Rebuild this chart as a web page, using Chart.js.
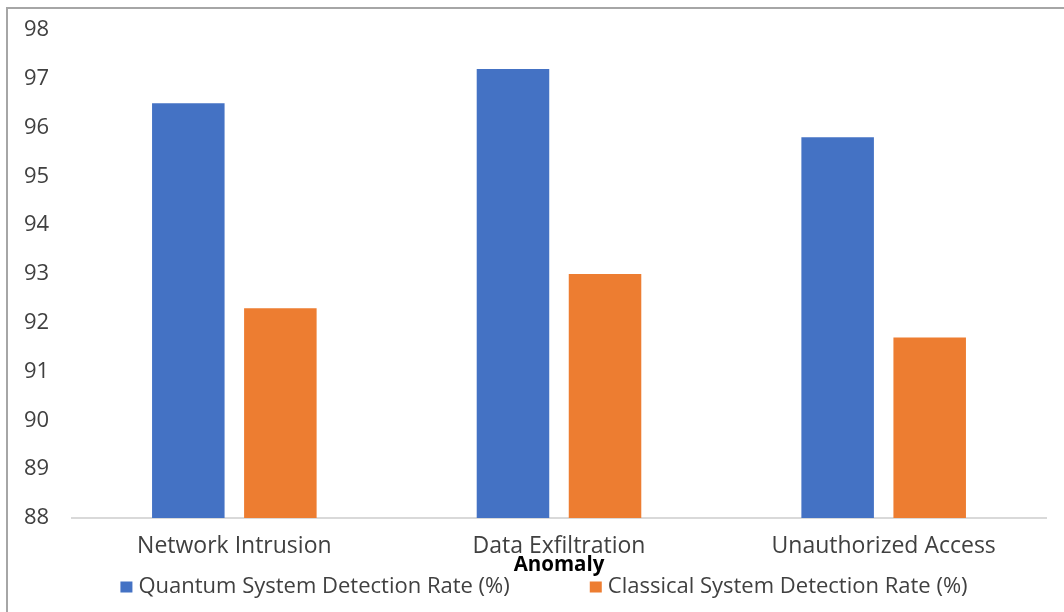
<!DOCTYPE html>
<html lang="en">
<head>
    <meta charset="UTF-8">
    <meta name="viewport" content="width=device-width, initial-scale=1.0">
    <title>Anomaly detection rates</title>
    <script src="https://cdn.jsdelivr.net/npm/chart.js@4.4.0/dist/chart.umd.min.js"></script>
    <style>
        html, body {margin: 0; padding: 0; background: #fff; overflow: hidden;}
        #wrap {position: relative; width: 1064px; height: 612px;}
        #frame {position: absolute; left: 6px; top: 7px; width: 1100px; height: 700px;
                border: 2px solid #a6a6a6; pointer-events: none;}
    </style>
</head>
<body>
    <div id="wrap">
        <canvas id="chart" width="1064" height="612"></canvas>
        <div id="frame"></div>
    </div>
    <script>
        const anomalies = ['Network Intrusion', 'Data Exfiltration', 'Unauthorized Access'];
        const quantumRates = [96.5, 97.2, 95.8];
        const classicalRates = [92.3, 93.0, 91.7];
        const yTicks = [88, 89, 90, 91, 92, 93, 94, 95, 96, 97, 98];

        const fontFamily = "'Open Sans', sans-serif";
        const textColor = '#404040';

        // legend drawn by hand: Excel puts a wide gap between the two entries
        const bottomLegend = {
            id: 'bottomLegend',
            afterDraw(chart) {
                const ctx = chart.ctx;
                const boxW = 12, boxH = 11, gap = 6, spacing = 80;
                const y = 587;
                ctx.save();
                ctx.font = '22px ' + fontFamily;
                ctx.textBaseline = 'middle';
                const items = chart.data.datasets.map(ds => ({
                    text: ds.label,
                    color: ds.backgroundColor,
                    w: ctx.measureText(ds.label).width
                }));
                let total = spacing * (items.length - 1);
                items.forEach(it => { total += boxW + gap + it.w; });
                let x = chart.width / 2 + 12 - total / 2;
                items.forEach(it => {
                    ctx.fillStyle = it.color;
                    ctx.fillRect(x, y - boxH / 2, boxW, boxH);
                    ctx.fillStyle = textColor;
                    ctx.fillText(it.text, x + boxW + gap, y);
                    x += boxW + gap + it.w + spacing;
                });
                ctx.restore();
            }
        };

        const ctx = document.getElementById('chart');
        new Chart(ctx, {
            type: 'bar',
            data: {
                labels: anomalies,
                datasets: [{
                    label: 'Quantum System Detection Rate (%)',
                    data: quantumRates,
                    backgroundColor: '#4472C4'
                }, {
                    label: 'Classical System Detection Rate (%)',
                    data: classicalRates,
                    backgroundColor: '#ED7D31'
                }]
            },
            plugins: [bottomLegend],
            options: {
                responsive: false,
                animation: false,
                categoryPercentage: 0.567,
                barPercentage: 0.788,
                layout: {
                    padding: {top: 30, right: 18, bottom: 37, left: 24}
                },
                plugins: {
                    tooltip: {enabled: false},
                    legend: {display: false}
                },
                scales: {
                    x: {
                        afterFit: (scale) => { scale.height = 57; },
                        grid: {display: false, drawTicks: false},
                        border: {display: true, color: '#d9d9d9', width: 2},
                        ticks: {
                            padding: 15,
                            color: textColor,
                            font: {family: fontFamily, size: 23}
                        },
                        title: {
                            display: true,
                            text: 'Anomaly',
                            color: '#000',
                            padding: {top: 0, bottom: 0},
                            font: {family: fontFamily, size: 20.5, weight: 'bold', lineHeight: 1}
                        }
                    },
                    y: {
                        min: 88,
                        max: 98,
                        afterFit: (scale) => { scale.width = 48; },
                        afterBuildTicks: (scale) => {
                            scale.ticks = yTicks.map(v => ({value: v}));
                        },
                        grid: {display: false, drawTicks: false},
                        border: {display: false},
                        ticks: {
                            padding: 0,
                            crossAlign: 'far',
                            color: textColor,
                            font: {family: fontFamily, size: 22}
                        }
                    }
                }
            }
        });
    </script>
</body>
</html>
